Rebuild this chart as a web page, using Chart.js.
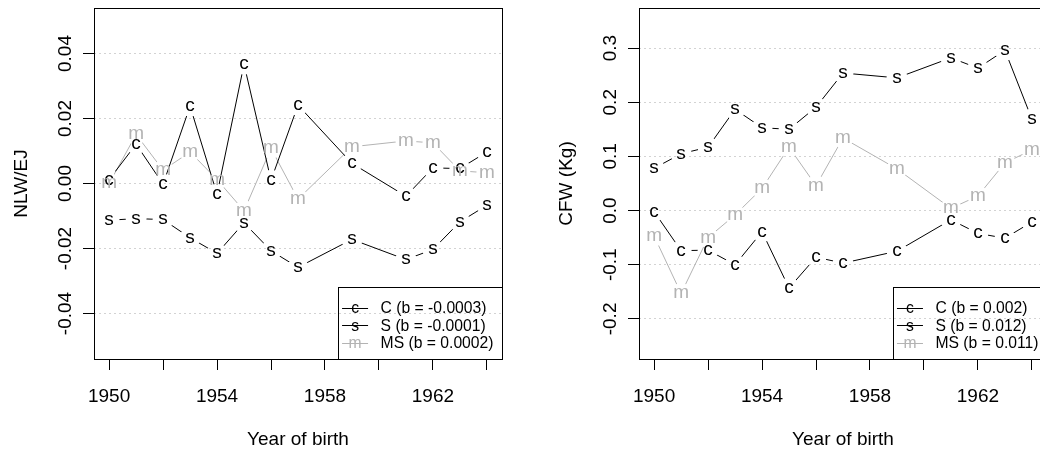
<!DOCTYPE html>
<html>
<head>
<meta charset="utf-8">
<script src="https://cdn.jsdelivr.net/npm/chart.js@4.4.0/dist/chart.umd.min.js"></script>
<style>
html,body{margin:0;padding:0;background:#fff;overflow:hidden;width:1040px;height:453px;}
#wrap{position:relative;width:1040px;height:453px;overflow:hidden;background:#fff;}
.panel{position:absolute;top:0;width:545px;height:453px;}
</style>
</head>
<body>
<div id="wrap">
  <div class="panel" style="left:0"><canvas id="c1" width="545" height="453"></canvas></div>
  <div class="panel" style="left:545px"><canvas id="c2" width="545" height="453"></canvas></div>
</div>
<script>
// ---------- data ----------
const years = [1950, 1951, 1952, 1953, 1954, 1955, 1956, 1957, 1959, 1961, 1962, 1963, 1964];

const nlwC  = [0.0012, 0.0121, -0.0002, 0.0238, -0.0033, 0.0367, 0.0010, 0.0241, 0.0062, -0.0039, 0.0048, 0.0046, 0.0097];
const nlwS  = [-0.0113, -0.0108, -0.0111, -0.0167, -0.0215, -0.0121, -0.0207, -0.0258, -0.0172, -0.0234, -0.0203, -0.0118, -0.0067];
const nlwMS = [0.0000, 0.0151, 0.0041, 0.0097, 0.0012, -0.0084, 0.0108, -0.0048, 0.0113, 0.0131, 0.0125, 0.0039, 0.0033];

const cfwC  = [-0.002, -0.074, -0.073, -0.100, -0.039, -0.143, -0.086, -0.097, -0.075, -0.017, -0.042, -0.051, -0.021];
const cfwS  = [0.078, 0.105, 0.117, 0.187, 0.153, 0.150, 0.191, 0.254, 0.245, 0.282, 0.263, 0.296, 0.169];
const cfwMS = [-0.047, -0.153, -0.050, -0.008, 0.041, 0.117, 0.046, 0.134, 0.077, 0.004, 0.027, 0.088, 0.112];

const xTicks = [1950, 1952, 1954, 1956, 1958, 1960, 1962, 1964];
const xTickLabels = [1950, 1954, 1958, 1962];
const xTitle = 'Year of birth';

const nlwYTicks = [-0.04, -0.02, 0, 0.02, 0.04];
const nlwYTickLabels = ['-0.04', '-0.02', '0.00', '0.02', '0.04'];
const nlwTitle = 'NLW/EJ';
const nlwLegend = ['C (b = -0.0003)', 'S (b = -0.0001)', 'MS (b = 0.0002)'];

const cfwYTicks = [-0.2, -0.1, 0, 0.1, 0.2, 0.3];
const cfwYTickLabels = ['-0.2', '-0.1', '0.0', '0.1', '0.2', '0.3'];
const cfwTitle = 'CFW (Kg)';
const cfwLegend = ['C (b = 0.002)', 'S (b = 0.012)', 'MS (b = 0.011)'];

const seriesLetters = ['c', 's', 'm'];

// ---------- style ----------
const FONT = '"Liberation Sans", Arial, Helvetica, sans-serif';
const COLORS = ['#000000', '#000000', '#b3b3b3'];
const GAP_R = 10.5;
Chart.defaults.font.family = FONT;

function makeChart(id, series, yMin, yMax, yTicks, yTickLabels, yTitle, legendLabels) {
  const datasets = series.map((vals, i) => ({
    label: legendLabels[i],
    data: years.map((x, j) => ({x: x, y: vals[j]})),
    borderColor: COLORS[i],
    backgroundColor: COLORS[i],
    borderWidth: 1,
    pointRadius: 0,
    pointHoverRadius: 0,
    fill: false,
    tension: 0,
    letter: seriesLetters[i]
  }));

  const rPlot = {
    id: 'rStyle',
    beforeDatasetDraw(chart, args) {
      const ctx = chart.ctx;
      ctx.save();
      ctx.beginPath();
      ctx.rect(0, 0, chart.width, chart.height);
      args.meta.data.forEach(p => {
        ctx.moveTo(p.x + GAP_R, p.y);
        ctx.arc(p.x, p.y, GAP_R, 0, Math.PI * 2);
      });
      ctx.clip('evenodd');
    },
    afterDatasetDraw(chart) {
      chart.ctx.restore();
    },
    afterDatasetsDraw(chart) {
      const ctx = chart.ctx;
      ctx.save();
      ctx.font = '19px ' + FONT;
      ctx.textAlign = 'center';
      ctx.textBaseline = 'alphabetic';
      chart.data.datasets.forEach((ds, i) => {
        const meta = chart.getDatasetMeta(i);
        ctx.fillStyle = ds.borderColor;
        meta.data.forEach(p => {
          ctx.fillText(ds.letter, p.x, p.y + 0.259 * 19);
        });
      });
      ctx.restore();
    },
    afterDraw(chart) {
      const ctx = chart.ctx;
      const a = chart.chartArea;
      ctx.save();
      // plot box
      ctx.strokeStyle = '#000';
      ctx.lineWidth = 1;
      ctx.strokeRect(Math.round(a.left) + 0.5, Math.round(a.top) + 0.5,
                     Math.round(a.right - a.left), Math.round(a.bottom - a.top));
      // y tick labels (parallel to axis)
      const ys = chart.scales.y;
      ctx.fillStyle = '#000';
      ctx.font = '19px ' + FONT;
      ctx.textAlign = 'center';
      ctx.textBaseline = 'alphabetic';
      yTicks.forEach((v, k) => {
        const py = ys.getPixelForValue(v);
        ctx.save();
        ctx.translate(a.left - 23.2, py);
        ctx.rotate(-Math.PI / 2);
        ctx.fillText(yTickLabels[k], 0, 0);
        ctx.restore();
      });
      // legend
      const lf = 15.7;
      ctx.font = lf + 'px ' + FONT;
      let maxW = 0;
      legendLabels.forEach(t => { maxW = Math.max(maxW, ctx.measureText(t).width); });
      const bw = 42.5 + maxW + 8.5;
      const bh = 71.7;
      const bx = a.right - bw;
      const by = a.bottom - bh;
      ctx.strokeStyle = '#000';
      ctx.lineWidth = 1;
      ctx.strokeRect(Math.round(bx) + 0.5, Math.round(by) + 0.5, Math.round(bw), Math.round(bh));
      legendLabels.forEach((t, i) => {
        const ry = by + 21.2 + i * 17.7;
        ctx.strokeStyle = COLORS[i];
        ctx.beginPath();
        ctx.moveTo(bx + 4, Math.round(ry - 1) + 0.5);
        ctx.lineTo(bx + 30, Math.round(ry - 1) + 0.5);
        ctx.stroke();
        ctx.fillStyle = COLORS[i];
        ctx.textAlign = 'center';
        ctx.textBaseline = 'alphabetic';
        ctx.fillText(seriesLetters[i], bx + 17, ry + 0.259 * lf + 0.5);
        ctx.fillStyle = '#000';
        ctx.textAlign = 'left';
        ctx.textBaseline = 'middle';
        ctx.fillText(t, bx + 42.5, ry);
      });
      ctx.restore();
    }
  };

  return new Chart(document.getElementById(id), {
    type: 'line',
    data: {datasets: datasets},
    plugins: [rPlot],
    options: {
      responsive: false,
      animation: false,
      events: [],
      layout: {padding: {left: 0, right: 43, top: 8, bottom: 0}},
      plugins: {legend: {display: false}, tooltip: {enabled: false}},
      scales: {
        x: {
          type: 'linear',
          min: 1949.44,
          max: 1964.56,
          afterBuildTicks: s => { s.ticks = xTicks.map(v => ({value: v})); },
          afterFit: s => { s.height = 94; },
          grid: {display: true, drawOnChartArea: false, drawTicks: true, tickLength: 11, tickColor: '#000', tickWidth: 1},
          border: {display: false},
          ticks: {
            autoSkip: false, maxRotation: 0, minRotation: 0, padding: 15, color: '#000',
            font: {size: 19},
            callback: v => xTickLabels.includes(v) ? String(v) : ''
          },
          title: {display: true, text: xTitle, color: '#000', font: {size: 19}, padding: {top: 0, bottom: 1.5}}
        },
        y: {
          type: 'linear',
          min: yMin,
          max: yMax,
          afterBuildTicks: s => { s.ticks = yTicks.map(v => ({value: v})); },
          afterFit: s => { s.width = 94; },
          grid: {display: true, drawOnChartArea: true, color: '#d3d3d3', lineWidth: 1, drawTicks: true, tickLength: 11, tickColor: '#000', tickWidth: 1, tickBorderDash: []},
          border: {display: false, dash: [2, 3]},
          ticks: {display: false},
          title: {display: true, text: yTitle, color: '#000', font: {size: 19}, padding: {top: 10, bottom: 0}}
        }
      }
    }
  });
}

makeChart('c1', [nlwC, nlwS, nlwMS], -0.054, 0.054, nlwYTicks, nlwYTickLabels, nlwTitle, nlwLegend);
makeChart('c2', [cfwC, cfwS, cfwMS], -0.274, 0.374, cfwYTicks, cfwYTickLabels, cfwTitle, cfwLegend);
</script>
</body>
</html>
